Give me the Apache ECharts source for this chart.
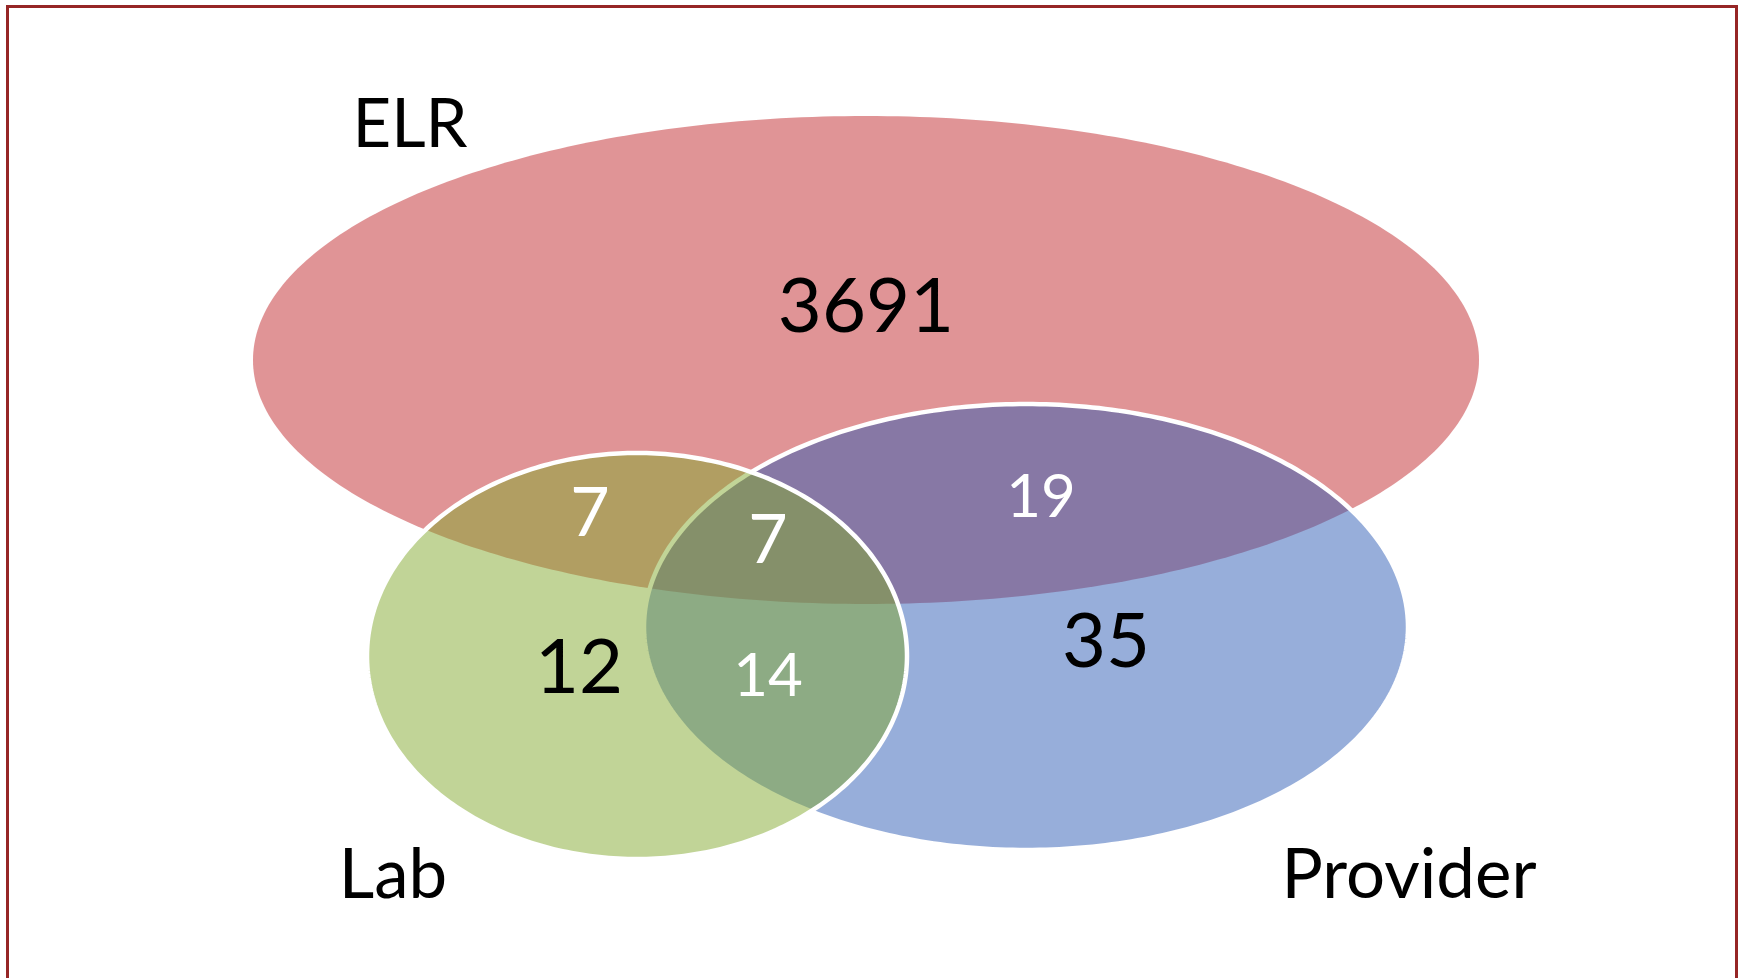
<!DOCTYPE html>
<html>
<head>
<meta charset="utf-8">
<script src="https://cdn.jsdelivr.net/npm/echarts@6/dist/echarts.min.js"></script>
<style>
    html, body { margin: 0; padding: 0; background: #fff; }
    #main { width: 1738px; height: 978px; }
</style>
</head>
<body>
<div id="main"></div>
<script>
// 集合与各区域的计数
var setNames = ['ELR', 'Provider', 'Lab'];
var regionNames = ['ELR only', 'ELR & Lab', 'ELR & Lab & Provider', 'ELR & Provider', 'Lab only', 'Lab & Provider', 'Provider only'];
var regionCounts = [3691, 7, 7, 19, 12, 14, 35];

// 版面 (坐标单位 = 1738x978 画板像素): 椭圆 [cx, cy, rx, ry]
var setShapes = [[866, 360, 613, 244], [1026, 627, 382, 223], [637, 656, 270, 203]];
var setColors = ['rgba(193,41,45,0.5)', 'rgba(47,93,181,0.5)', 'rgba(131,169,47,0.5)'];
var setStroke = [0, 4.5, 4.5];
var setLabelPos = [[410, 125], [1409, 876], [393, 876]];
var setFont = [67, 69, 69];
var regionPos = [[866, 307], [590, 514], [768, 541], [1041, 498], [579, 668], [768, 677], [1106, 642]];
var regionFont = [76, 68, 68, 60, 76, 60, 76];
var regionColor = ['#000', '#fff', '#fff', '#fff', '#000', '#fff', '#000'];

var FONT = 'Lato, "Open Sans", sans-serif';

var myChart = echarts.init(document.getElementById('main'));

var ellipseData = setShapes.map(function (s, i) {
    return { name: setNames[i], value: s };
});
var setLabelData = setLabelPos.map(function (p, i) {
    return { name: setNames[i], value: p };
});
var regionData = regionPos.map(function (p, i) {
    return { name: regionNames[i], value: [p[0], p[1], regionCounts[i]] };
});

var option = {
    animation: false,
    grid: { left: 0, right: 0, top: 0, bottom: 0 },
    xAxis: { type: 'value', min: 0, max: 1738, show: false },
    yAxis: { type: 'value', min: 0, max: 978, inverse: true, show: false },
    graphic: [{
        type: 'rect',
        left: 5,
        top: 4,
        shape: { width: 1729, height: 1000 },
        style: { fill: null, stroke: '#962626', lineWidth: 3 },
        z: 10
    }],
    series: [
        {
            type: 'custom',
            name: 'sets',
            data: ellipseData,
            renderItem: function (params, api) {
                var cx = api.value(0), cy = api.value(1), rx = api.value(2), ry = api.value(3);
                var pts = [];
                for (var k = 0; k < 360; k++) {
                    var t = k / 360 * 2 * Math.PI;
                    pts.push(api.coord([cx + rx * Math.cos(t), cy + ry * Math.sin(t)]));
                }
                var i = params.dataIndex;
                return {
                    type: 'polygon',
                    shape: { points: pts },
                    style: {
                        fill: setColors[i],
                        stroke: setStroke[i] ? '#fff' : null,
                        lineWidth: setStroke[i]
                    }
                };
            }
        },
        {
            type: 'custom',
            name: 'setLabels',
            data: setLabelData,
            z: 5,
            renderItem: function (params, api) {
                var p = api.coord([api.value(0), api.value(1)]);
                return {
                    type: 'text',
                    x: p[0],
                    y: p[1],
                    style: {
                        text: setNames[params.dataIndex],
                        fontSize: setFont[params.dataIndex],
                        fontFamily: FONT,
                        fill: '#000',
                        align: 'center',
                        verticalAlign: 'middle'
                    }
                };
            }
        },
        {
            type: 'custom',
            name: 'counts',
            data: regionData,
            z: 5,
            renderItem: function (params, api) {
                var p = api.coord([api.value(0), api.value(1)]);
                var i = params.dataIndex;
                return {
                    type: 'text',
                    x: p[0],
                    y: p[1],
                    style: {
                        text: String(api.value(2)),
                        fontSize: regionFont[i],
                        fontFamily: FONT,
                        fill: regionColor[i],
                        align: 'center',
                        verticalAlign: 'middle'
                    }
                };
            }
        }
    ]
};

myChart.setOption(option);
</script>
</body>
</html>
